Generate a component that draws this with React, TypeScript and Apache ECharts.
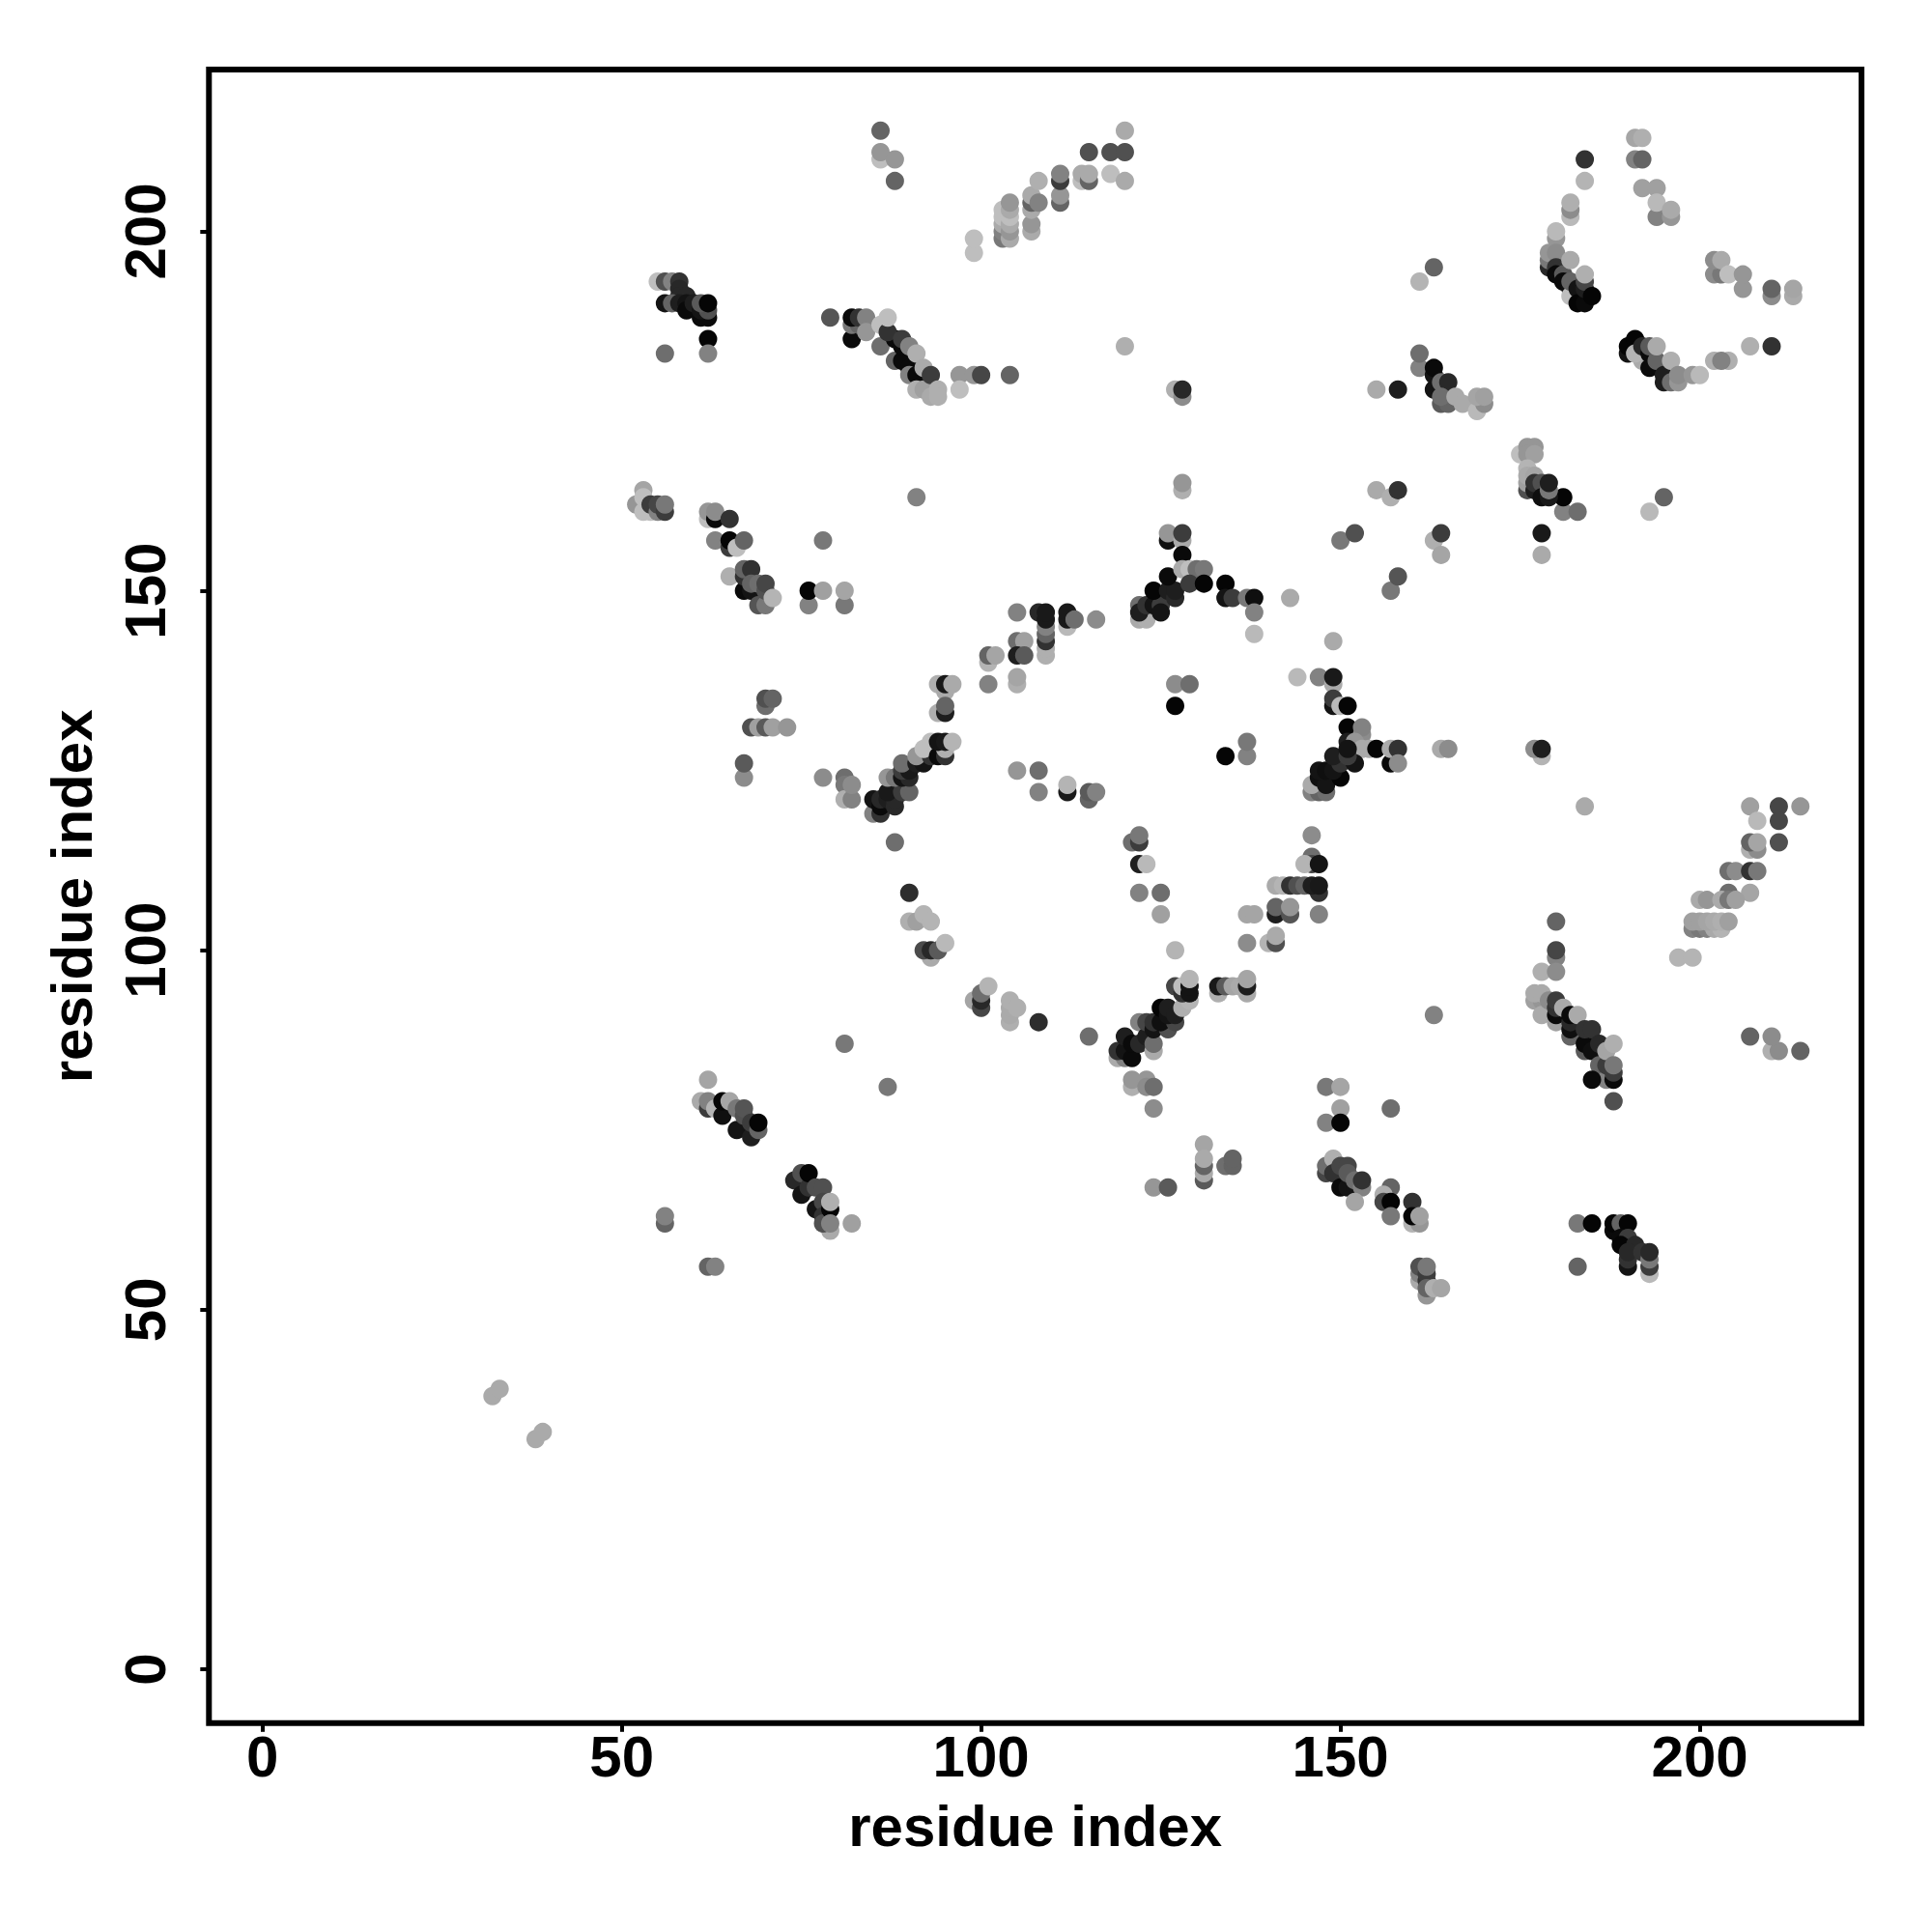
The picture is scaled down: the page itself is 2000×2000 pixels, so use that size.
import React, { useEffect, useRef } from "react";
import * as echarts from "echarts";

type P = [number, number, number];

const tickValues = [0, 50, 100, 150, 200];
const axisTitle = "residue index";

const farLeft: P[] = [[32,38,170],[33,39,170],[38,32,170],[39,33,170]];
const topArcA: P[] = [[86,214,100],[86,210,190],[86,211,150],[88,210,150],[88,207,100]];
const topArcB: P[] = [[99,197,190],[99,199,190],[103,199,120],[103,200,130],[103,201,170],[103,202,190],[103,203,190],[104,199,170],[104,200,150],[104,201,170],[104,202,190],[104,203,170],[104,204,150],[107,200,170],[107,201,150],[107,203,170],[107,204,100],[107,205,170],[108,204,130],[108,207,175],[111,204,100],[111,205,150],[111,207,60],[111,208,130],[114,207,190],[114,208,170],[115,207,100],[115,208,170],[115,211,80],[118,208,190],[118,211,80],[120,207,170],[120,211,80],[120,214,170]];
const c56: P[] = [[55,193,190],[56,193,80],[57,193,130],[58,193,50],[58,192,40],[58,191,40],[59,191,40],[56,190,20],[57,190,100],[58,190,30],[59,190,20],[59,189,10],[60,190,30],[61,188,10],[62,188,10],[61,189,20],[62,189,80],[61,190,90],[62,190,5],[62,185,5],[56,183,110],[62,183,130]];
const c79: P[] = [[79,188,85],[82,185,10],[82,187,120],[83,187,100],[82,188,10],[83,188,50],[84,188,130],[84,186,150],[86,187,190],[86,184,110],[88,182,100],[89,182,10],[88,185,10],[87,186,50],[87,188,190],[89,184,10],[89,185,60],[90,184,130],[90,181,10],[90,180,130],[91,180,10],[91,183,175],[92,181,170],[91,178,175],[92,178,160],[93,180,60],[93,177,170],[94,178,175],[94,177,175],[97,180,150],[97,178,190],[99,180,150],[100,180,70],[104,180,100]];
const c120: P[] = [[120,184,175],[127,178,175],[128,177,140],[128,178,40],[128,164,175],[128,165,150]];
const c52: P[] = [[52,162,150],[53,164,165],[53,163,190],[53,161,190],[54,161,190],[54,162,60],[55,161,130],[55,162,70],[56,161,60],[56,162,120],[62,160,190],[62,161,150],[63,160,10],[63,161,140],[65,160,50],[63,157,130],[65,156,60],[65,157,5],[66,156,190],[67,157,100],[78,157,120],[91,163,130]];
const c65: P[] = [[65,152,175],[67,150,10],[67,152,50],[68,150,20],[67,153,100],[68,153,50],[68,151,100],[69,151,110],[69,148,85],[70,148,120],[70,150,80],[70,151,70],[71,149,180],[76,148,130],[76,150,5],[78,150,160],[81,148,120],[81,150,165]];
const c105: P[] = [[105,147,130],[108,147,40],[109,141,175],[109,142,175],[109,143,50],[109,144,100],[109,145,130],[109,146,25],[109,147,25],[112,145,185],[112,146,25],[112,147,25],[113,146,110],[116,146,140],[105,143,110],[106,143,160],[105,141,30],[106,141,90],[101,140,180],[101,141,100],[102,141,165],[101,137,130],[105,137,175],[105,138,165]];
const c94: P[] = [[94,137,175],[95,136,170],[95,137,25],[96,137,170],[94,133,175],[95,133,30],[95,134,100]];
const c85: P[] = [[85,119,130],[86,119,50],[85,121,20],[86,120,10],[86,121,40],[87,121,30],[88,120,40],[88,121,40],[87,122,25],[89,122,60],[90,122,100],[87,124,150],[88,124,120],[89,124,20],[90,124,40],[89,125,60],[90,125,25],[89,126,110],[91,126,30],[92,126,20],[91,127,150],[93,127,50],[92,128,190],[93,129,190],[94,127,10],[95,127,50],[95,128,175],[94,129,20],[95,129,25],[96,129,180]];
const c67: P[] = [[70,134,110],[70,135,80],[71,135,100],[68,131,80],[69,131,160],[70,131,90],[71,131,160],[73,131,150],[67,124,140],[67,126,90],[78,124,140],[81,124,110],[81,123,120],[81,121,175],[82,121,130],[82,123,140],[88,115,110],[90,108,45]];
const c90: P[] = [[90,104,175],[91,104,160],[92,105,180],[93,104,180],[93,99,170],[92,100,75],[93,100,40],[94,100,90],[95,101,185]];
const c105b: P[] = [[105,125,150],[108,125,110],[108,122,130],[112,122,25],[112,123,180],[115,121,100],[115,122,90],[116,122,130],[127,137,140],[129,137,110],[127,134,5],[134,127,5],[121,115,110],[122,115,60],[122,116,120],[122,112,30],[123,112,185],[122,108,130],[125,108,110],[125,105,160],[127,100,180]];
const c122: P[] = [[122,146,170],[123,146,175],[122,148,110],[122,147,30],[123,148,50],[124,148,20],[125,148,60],[124,150,5],[125,147,20],[126,150,30],[127,149,40],[127,150,30],[126,152,10],[126,157,15],[126,158,150],[128,157,170],[128,158,60],[128,155,10],[128,153,170],[129,153,190],[130,153,110],[131,153,120],[129,151,60],[131,151,5],[134,151,5],[134,149,20],[135,149,60],[137,149,120],[138,149,15],[138,147,130],[138,144,185],[143,149,170]];
const c146: P[] = [[149,143,170],[144,138,185],[147,138,130],[149,137,170],[149,138,25],[149,134,20],[149,135,60],[150,134,185],[151,134,5],[151,131,5],[153,130,140],[153,131,130],[151,129,30],[152,129,150],[153,128,170],[154,128,170],[155,128,5],[157,126,10],[157,128,170],[158,128,50],[158,126,140],[164,128,170],[165,128,140],[178,127,180],[177,128,140],[178,128,30],[137,127,130],[137,129,120]];
const c147: P[] = [[146,122,130],[147,122,100],[148,122,110],[146,123,170],[147,124,15],[148,123,20],[147,125,20],[148,125,15],[150,124,5],[149,125,20],[150,126,50],[149,127,30],[152,126,20],[151,127,60],[151,128,20]];
const c140: P[] = [[146,116,140],[146,113,110],[146,112,70],[145,112,180],[147,112,20],[141,109,170],[142,109,180],[143,109,50],[144,109,80],[145,109,100],[147,108,50],[146,109,30],[147,109,25],[141,105,30],[141,106,100],[143,105,85],[143,106,150],[147,105,130],[137,105,165],[138,105,165],[137,101,140],[140,101,180],[141,101,80],[141,102,170]];
const c184: P[] = [[184,120,170],[207,120,160],[211,120,70],[214,120,150],[208,118,185],[211,118,70],[207,114,175],[208,114,140],[207,115,100],[208,115,165],[211,115,80],[204,111,110],[205,111,140],[207,111,50],[208,111,120],[204,108,110],[207,108,165],[200,107,170],[201,107,150],[203,107,170],[204,107,120],[205,107,160],[199,103,130],[200,103,120],[201,103,130],[202,103,170],[203,103,180],[199,104,160],[200,104,160],[201,104,165],[202,104,170],[203,104,175],[204,104,160],[197,99,180],[199,99,180]];
const c155: P[] = [[155,164,170],[157,163,175],[158,164,50],[181,161,130],[183,161,110],[181,163,5],[195,163,100],[193,161,185],[150,157,120],[152,158,80],[163,157,175],[164,155,165],[164,158,60],[178,155,170],[178,158,25],[157,150,120],[158,152,85],[163,195,100],[161,193,180]];
const c180: P[] = [[184,210,50],[184,207,180],[182,202,185],[182,203,140],[182,204,175],[180,199,150],[180,200,185],[179,195,40],[179,196,120],[179,197,150],[180,197,140],[180,195,50],[180,194,10],[181,194,90],[182,196,170],[181,193,10],[182,192,15],[182,191,190],[182,193,100],[183,192,20],[183,190,5],[184,190,10],[184,192,30],[184,193,70],[184,194,175],[185,191,5]];
const topRight: P[] = [[191,213,165],[192,213,175],[191,210,130],[192,210,100],[192,206,160],[194,206,160],[194,202,130],[194,204,185],[196,202,150],[196,203,170],[202,194,140],[203,194,120],[202,196,140],[203,196,170],[204,194,190],[206,192,150],[206,194,150],[210,191,140],[210,192,100],[213,191,170],[213,192,165]];
const c190: P[] = [[190,183,20],[190,184,5],[191,185,5],[192,182,170],[191,183,180],[192,184,40],[193,183,10],[193,184,90],[193,181,10],[194,182,100],[194,184,170],[195,179,30],[195,180,30],[196,179,110],[196,182,175],[197,179,150],[197,180,140],[199,180,150],[200,180,185],[202,182,175],[204,182,175],[203,182,130],[207,184,175],[210,184,50]];
const c161: P[] = [[161,181,130],[161,183,110],[163,178,20],[163,180,20],[163,181,10],[155,178,170],[158,178,30],[164,179,110],[165,179,40],[164,176,90],[165,176,100],[164,177,110],[166,177,170],[167,176,170],[169,175,185],[170,176,140],[169,177,165],[170,177,160]];
const c176: P[] = [[175,169,190],[176,170,150],[177,170,150],[176,169,150],[177,169,160],[176,167,180],[176,164,80],[176,165,160],[176,166,170],[177,166,165],[177,164,30],[177,165,50],[178,165,80],[178,163,15],[179,163,25],[179,164,120],[179,165,30]];
const c62: P[] = [[62,82,165],[61,79,170],[62,78,60],[62,79,130],[63,78,180],[64,77,15],[64,79,5],[65,79,165],[66,75,20],[66,78,120],[67,77,80],[67,78,85],[68,74,30],[68,76,60],[69,75,100],[69,76,5],[56,62,100],[56,63,130],[62,56,100],[63,56,130]];
const c74: P[] = [[74,68,40],[75,66,20],[75,69,80],[76,67,50],[76,69,5],[77,64,20],[77,67,80],[78,67,80],[78,65,70],[78,63,50],[79,61,170],[78,62,80],[79,64,5],[79,65,175],[79,62,130],[82,62,160],[81,87,120],[87,81,120]];
const c99: P[] = [[99,93,165],[100,92,70],[100,93,40],[100,94,110],[101,95,180],[104,90,175],[104,91,170],[104,92,170],[104,93,175],[105,92,175],[108,90,45],[115,88,110]];
const c119: P[] = [[119,85,170],[120,85,130],[119,86,50],[120,86,20],[121,85,10],[120,88,30],[121,87,10],[122,87,40],[122,90,130],[124,86,170],[123,88,30],[123,90,70],[124,87,110],[124,89,20],[124,90,50],[126,89,80],[125,90,15],[125,92,5],[127,90,70],[126,91,20],[126,92,30],[127,91,30],[128,92,175],[129,93,180],[127,95,70],[128,94,50],[128,95,190],[129,94,20],[129,95,20],[129,96,180]];
const c121: P[] = [[121,81,175],[121,82,150],[123,82,150],[123,81,140],[124,81,110],[124,78,140],[124,67,150],[126,67,90],[131,73,165],[131,68,90],[131,69,170],[131,70,100],[131,71,170],[134,70,110],[135,70,100],[135,71,100],[133,94,175],[133,95,25],[134,95,90],[135,95,165],[137,94,170],[136,95,170],[137,95,30],[137,96,165]];
const c148: P[] = [[148,81,120],[150,81,165],[150,78,160],[148,76,130],[150,76,5],[157,78,110],[163,91,130],[148,69,70],[148,70,110],[149,71,175],[149,69,50],[150,70,70],[151,70,70],[150,67,10],[151,67,20],[151,69,90],[152,67,20],[152,68,110],[153,67,130],[153,68,50],[152,65,165],[157,67,100],[156,66,175],[156,65,70],[157,65,5],[157,63,120],[160,65,50],[160,62,180],[161,62,150],[160,63,5],[161,63,160]];
const c161b: P[] = [[161,54,170],[162,52,150],[161,55,130],[161,56,80],[162,54,50],[162,55,60],[162,53,100],[162,56,120],[163,53,175],[164,53,165]];
const c177: P[] = [[180,104,100],[180,99,130],[180,100,70],[178,97,175],[180,97,140],[177,93,160],[178,93,150],[177,94,170],[178,94,170],[178,91,170],[179,93,140],[180,90,160],[180,91,10],[180,92,50],[180,93,60],[181,92,170],[182,88,100],[182,89,15],[182,90,40],[182,91,10],[183,91,170],[184,86,90],[184,87,10],[184,89,50],[185,89,50],[185,86,15],[186,84,100],[186,87,40],[187,82,130],[187,84,60],[187,86,165],[188,87,175],[185,82,10],[188,82,10],[188,83,60],[188,84,120],[188,79,80]];
const c207: P[] = [[207,88,100],[210,86,175],[211,86,140],[210,88,140],[214,86,100]];
const c183: P[] = [[183,62,120],[185,62,5],[183,56,100],[188,61,10],[188,62,5],[189,62,100],[190,62,5],[189,60,10],[190,60,60],[189,59,5],[191,59,40],[190,56,20],[190,57,50],[190,58,40],[192,58,50],[193,55,185],[193,56,60],[193,57,120],[193,58,40]];

const allPoints: P[] = [
  farLeft, topArcA, topArcB, c56, c79, c120, c52, c65, c105, c94, c85, c67, c90, c105b, c122, c146, c147, c140,
  c184, c155, c180, topRight, c190, c161, c176, c62, c74, c99, c119, c121, c148, c161b, c177, c207, c183,
].flat();

const FONT = "Liberation Sans";

export default function App() {
  const ref = useRef<HTMLDivElement>(null);
  useEffect(() => {
    const chart = echarts.init(ref.current!, undefined, { renderer: "svg" });
    const axisBase = {
      type: "value",
      min: -7.45,
      max: 222.5,
      name: axisTitle,
      nameLocation: "middle",
      nameTextStyle: { fontFamily: FONT, fontWeight: "bold", fontSize: 60, color: "#000" },
      splitLine: { show: false },
      axisLine: { show: false, onZero: false },
      axisTick: { show: true, length: 9, lineStyle: { color: "#000", width: 4 }, customValues: tickValues },
    };
    const labelBase = {
      fontFamily: FONT,
      fontWeight: "bold",
      fontSize: 60,
      color: "#000",
      customValues: tickValues,
      hideOverlap: false,
    };
    chart.setOption({
      animation: false,
      backgroundColor: "#fff",
      grid: {
        show: true,
        left: 216.3,
        right: 73,
        top: 72,
        bottom: 216.2,
        borderColor: "#000",
        borderWidth: 6,
        backgroundColor: "#fff",
      },
      xAxis: { ...axisBase, nameGap: 77, axisLabel: { ...labelBase, margin: 5 } },
      yAxis: {
        ...axisBase,
        min: -7.5,
        nameGap: 112,
        nameRotate: 90,
        axisLabel: { ...labelBase, rotate: 90, margin: 36 },
      },
      series: [
        {
          type: "scatter",
          silent: true,
          symbol: "circle",
          symbolSize: 19,
          itemStyle: { opacity: 1 },
          data: allPoints.map((p) => ({
            value: [p[0], p[1]],
            itemStyle: { color: `rgb(${p[2]},${p[2]},${p[2]})`, opacity: 1 },
          })),
        },
      ],
    });
    return () => chart.dispose();
  }, []);
  return <div ref={ref} style={{ position: "absolute", left: 0, top: 0, width: 2000, height: 2000 }} />;
}
